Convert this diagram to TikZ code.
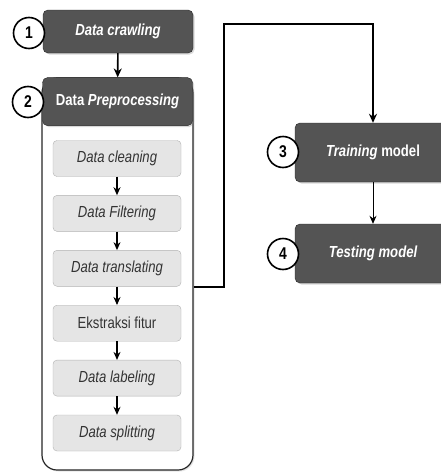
\documentclass[tikz,border=0pt]{standalone}
\usepackage{fontspec}
\setmainfont{Liberation Sans}[FakeStretch=0.82]
\usetikzlibrary{arrows.meta,positioning,shadows}

\begin{document}
\begin{tikzpicture}[x=1pt,y=-1pt,
    stage/.style={draw=black!85,fill=black!67,rounded corners=5pt,minimum width=150pt,
        text=white,font=\fontsize{16}{18}\selectfont\bfseries,
        drop shadow={opacity=0.3,shadow xshift=1.5pt,shadow yshift=-1.5pt}},
    substep/.style={draw=black!30,fill=black!10,rounded corners=4pt,minimum width=128pt,
        minimum height=36pt,text=black!80,font=\fontsize{16}{18}\selectfont},
    num/.style={circle,draw=black,line width=1.6pt,fill=white,minimum size=31pt,
        inner sep=0pt,font=\fontsize{17}{19}\selectfont\bfseries},
    flow/.style={line width=1.6pt,-{Stealth[length=9pt,width=8pt]}},
    subflow/.style={line width=1.1pt,-{Stealth[length=8pt,width=7pt]}},
    node distance=18.5pt]
    \useasboundingbox (0,0) rectangle (441,472);

    \node[stage,minimum height=43pt] (crawl) at (118,31.5) {\itshape Data crawling};
    \node[draw=black!85,line width=1.2pt,fill=white,rounded corners=15pt,minimum width=151pt,
        minimum height=392pt,drop shadow={opacity=0.2,shadow xshift=1.5pt,shadow yshift=-1.5pt}]
        (prepbox) at (117.5,274) {};
    \node[stage,minimum height=48pt,anchor=north] (prep) at (prepbox.north) {Data \textit{Preprocessing}};

    \node[substep] (clean) at (117,158.5) {\textit{Data cleaning}};
    \node[substep,below=of clean] (filter) {\textit{Data Filtering}};
    \node[substep,below=of filter] (translate) {\textit{Data translating}};
    \node[substep,below=of translate] (fitur) {Ekstraksi fitur};
    \node[substep,below=of fitur] (label) {\textit{Data labeling}};
    \node[substep,below=of label] (split) {\textit{Data splitting}};

    \node[stage,minimum width=156pt,minimum height=59pt] (train) at (373,152.5) {\textit{Training} model};
    \node[stage,minimum width=156pt,minimum height=59pt] (test) at (373,253.5) {\itshape Testing model};

    \node[num] (n1) at (29,33) {1};
    \node[num] (n2) at (28,102) {2};
    \node[num] (n3) at (283,152) {3};
    \node[num] (n4) at (283,254) {4};

    \draw[flow] (crawl) -- (prep);
    \draw[subflow] (clean) -- (filter);
    \draw[subflow] (filter) -- (translate);
    \draw[subflow] (translate) -- (fitur);
    \draw[subflow] (fitur) -- (label);
    \draw[subflow] (label) -- (split);
    \draw[flow,line width=2pt] (prepbox.east |- translate.south) -| (224,24) -| (train.north);
    \draw[line width=0.8pt,-{Stealth[length=8pt,width=7pt]}] (train) -- (test);
\end{tikzpicture}
\end{document}
